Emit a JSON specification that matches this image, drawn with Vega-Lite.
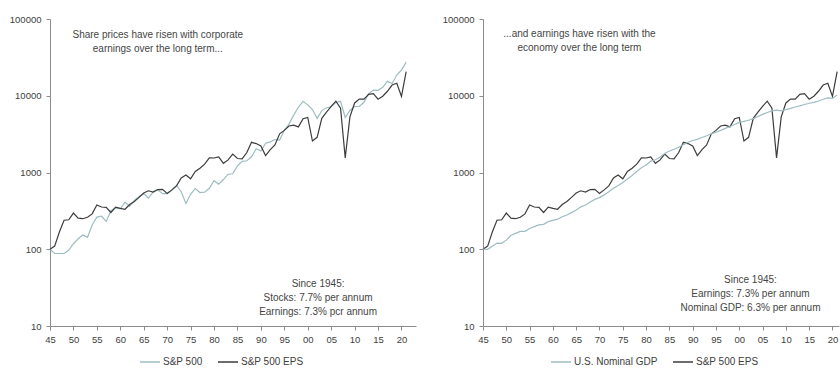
{
  "$schema": "https://vega.github.io/schema/vega-lite/v6.json",
  "background": "white",
  "padding": {"left": 9, "top": 14, "right": 0, "bottom": 0},
  "spacing": 26,
  "config": {
    "view": {"stroke": null},
    "font": "Liberation Sans",
    "axis": {
      "labelFont": "Liberation Sans",
      "labelFontSize": 9.5,
      "labelColor": "#404040",
      "domainColor": "#8c8c8c",
      "tickColor": "#8c8c8c",
      "tickSize": 4,
      "grid": false,
      "title": null,
      "labelFlush": false
    },
    "legend": {
      "orient": "none",
      "direction": "horizontal",
      "symbolType": "stroke",
      "symbolSize": 400,
      "symbolStrokeWidth": 1.5,
      "labelFont": "Liberation Sans",
      "labelFontSize": 10,
      "labelColor": "#404040",
      "labelOffset": 2,
      "columnPadding": 12,
      "padding": 0,
      "title": null
    },
    "text": {"font": "Liberation Sans", "fontSize": 10, "color": "#454545"}
  },
  "resolve": {"scale": {"color": "independent", "x": "independent", "y": "independent"}, "legend": {"color": "independent"}},
  "datasets": {
    "notes": [
      {"panel": "L", "year": 1968, "value": 61900, "label": "Share prices have risen with corporate"},
      {"panel": "L", "year": 1968, "value": 40650, "label": "earnings over the long term..."},
      {"panel": "L", "year": 2002.2, "value": 35.2, "label": "Since 1945:"},
      {"panel": "L", "year": 2002.2, "value": 23.2, "label": "Stocks: 7.7% per annum"},
      {"panel": "L", "year": 2002.2, "value": 15.0, "label": "Earnings: 7.3% pcr annum"},
      {"panel": "R", "year": 1965.7, "value": 63200, "label": "...and earnings have risen with the"},
      {"panel": "R", "year": 1965.7, "value": 41500, "label": "economy over the long term"},
      {"panel": "R", "year": 2002.4, "value": 39.7, "label": "Since 1945:"},
      {"panel": "R", "year": 2002.4, "value": 26.1, "label": "Earnings: 7.3% per annum"},
      {"panel": "R", "year": 2002.4, "value": 17.2, "label": "Nominal GDP: 6.3% per annum"}
    ],
    "series": [
      {"year":1945,"series":"S&P 500","value":100},{"year":1946,"series":"S&P 500","value":88},{"year":1947,"series":"S&P 500","value":88},{"year":1948,"series":"S&P 500","value":88},{"year":1949,"series":"S&P 500","value":97},
      {"year":1950,"series":"S&P 500","value":118},{"year":1951,"series":"S&P 500","value":137},{"year":1952,"series":"S&P 500","value":153},{"year":1953,"series":"S&P 500","value":143},{"year":1954,"series":"S&P 500","value":207},
      {"year":1955,"series":"S&P 500","value":262},{"year":1956,"series":"S&P 500","value":269},{"year":1957,"series":"S&P 500","value":230},{"year":1958,"series":"S&P 500","value":318},{"year":1959,"series":"S&P 500","value":345},
      {"year":1960,"series":"S&P 500","value":335},{"year":1961,"series":"S&P 500","value":412},{"year":1962,"series":"S&P 500","value":363},{"year":1963,"series":"S&P 500","value":432},{"year":1964,"series":"S&P 500","value":488},
      {"year":1965,"series":"S&P 500","value":532},{"year":1966,"series":"S&P 500","value":463},{"year":1967,"series":"S&P 500","value":556},{"year":1968,"series":"S&P 500","value":598},{"year":1969,"series":"S&P 500","value":530},
      {"year":1970,"series":"S&P 500","value":531},{"year":1971,"series":"S&P 500","value":588},{"year":1972,"series":"S&P 500","value":680},{"year":1973,"series":"S&P 500","value":562},{"year":1974,"series":"S&P 500","value":395},
      {"year":1975,"series":"S&P 500","value":520},{"year":1976,"series":"S&P 500","value":619},{"year":1977,"series":"S&P 500","value":548},{"year":1978,"series":"S&P 500","value":554},{"year":1979,"series":"S&P 500","value":622},
      {"year":1980,"series":"S&P 500","value":782},{"year":1981,"series":"S&P 500","value":706},{"year":1982,"series":"S&P 500","value":810},{"year":1983,"series":"S&P 500","value":950},{"year":1984,"series":"S&P 500","value":963},
      {"year":1985,"series":"S&P 500","value":1217},{"year":1986,"series":"S&P 500","value":1395},{"year":1987,"series":"S&P 500","value":1423},{"year":1988,"series":"S&P 500","value":1600},{"year":1989,"series":"S&P 500","value":2036},
      {"year":1990,"series":"S&P 500","value":1902},{"year":1991,"series":"S&P 500","value":2403},{"year":1992,"series":"S&P 500","value":2510},{"year":1993,"series":"S&P 500","value":2687},{"year":1994,"series":"S&P 500","value":2646},
      {"year":1995,"series":"S&P 500","value":3548},{"year":1996,"series":"S&P 500","value":4267},{"year":1997,"series":"S&P 500","value":5590},{"year":1998,"series":"S&P 500","value":7081},{"year":1999,"series":"S&P 500","value":8463},
      {"year":2000,"series":"S&P 500","value":7605},{"year":2001,"series":"S&P 500","value":6613},{"year":2002,"series":"S&P 500","value":5068},{"year":2003,"series":"S&P 500","value":6405},{"year":2004,"series":"S&P 500","value":6981},
      {"year":2005,"series":"S&P 500","value":7191},{"year":2006,"series":"S&P 500","value":8170},{"year":2007,"series":"S&P 500","value":8458},{"year":2008,"series":"S&P 500","value":5203},{"year":2009,"series":"S&P 500","value":6423},
      {"year":2010,"series":"S&P 500","value":7244},{"year":2011,"series":"S&P 500","value":7244},{"year":2012,"series":"S&P 500","value":8215},{"year":2013,"series":"S&P 500","value":10647},{"year":2014,"series":"S&P 500","value":11860},
      {"year":2015,"series":"S&P 500","value":11774},{"year":2016,"series":"S&P 500","value":12897},{"year":2017,"series":"S&P 500","value":15401},{"year":2018,"series":"S&P 500","value":14440},{"year":2019,"series":"S&P 500","value":18611},
      {"year":2020,"series":"S&P 500","value":21636},{"year":2021,"series":"S&P 500","value":27455},

      {"year":1945,"series":"S&P 500 EPS","value":100},{"year":1946,"series":"S&P 500 EPS","value":110},{"year":1947,"series":"S&P 500 EPS","value":168},{"year":1948,"series":"S&P 500 EPS","value":239},{"year":1949,"series":"S&P 500 EPS","value":242},
      {"year":1950,"series":"S&P 500 EPS","value":296},{"year":1951,"series":"S&P 500 EPS","value":254},{"year":1952,"series":"S&P 500 EPS","value":250},{"year":1953,"series":"S&P 500 EPS","value":261},{"year":1954,"series":"S&P 500 EPS","value":289},
      {"year":1955,"series":"S&P 500 EPS","value":377},{"year":1956,"series":"S&P 500 EPS","value":355},{"year":1957,"series":"S&P 500 EPS","value":351},{"year":1958,"series":"S&P 500 EPS","value":301},{"year":1959,"series":"S&P 500 EPS","value":353},
      {"year":1960,"series":"S&P 500 EPS","value":341},{"year":1961,"series":"S&P 500 EPS","value":332},{"year":1962,"series":"S&P 500 EPS","value":382},{"year":1963,"series":"S&P 500 EPS","value":419},{"year":1964,"series":"S&P 500 EPS","value":474},
      {"year":1965,"series":"S&P 500 EPS","value":541},{"year":1966,"series":"S&P 500 EPS","value":578},{"year":1967,"series":"S&P 500 EPS","value":555},{"year":1968,"series":"S&P 500 EPS","value":600},{"year":1969,"series":"S&P 500 EPS","value":602},
      {"year":1970,"series":"S&P 500 EPS","value":534},{"year":1971,"series":"S&P 500 EPS","value":594},{"year":1972,"series":"S&P 500 EPS","value":669},{"year":1973,"series":"S&P 500 EPS","value":850},{"year":1974,"series":"S&P 500 EPS","value":926},
      {"year":1975,"series":"S&P 500 EPS","value":829},{"year":1976,"series":"S&P 500 EPS","value":1032},{"year":1977,"series":"S&P 500 EPS","value":1134},{"year":1978,"series":"S&P 500 EPS","value":1284},{"year":1979,"series":"S&P 500 EPS","value":1548},
      {"year":1980,"series":"S&P 500 EPS","value":1544},{"year":1981,"series":"S&P 500 EPS","value":1600},{"year":1982,"series":"S&P 500 EPS","value":1317},{"year":1983,"series":"S&P 500 EPS","value":1461},{"year":1984,"series":"S&P 500 EPS","value":1733},
      {"year":1985,"series":"S&P 500 EPS","value":1522},{"year":1986,"series":"S&P 500 EPS","value":1508},{"year":1987,"series":"S&P 500 EPS","value":1823},{"year":1988,"series":"S&P 500 EPS","value":2474},{"year":1989,"series":"S&P 500 EPS","value":2382},
      {"year":1990,"series":"S&P 500 EPS","value":2223},{"year":1991,"series":"S&P 500 EPS","value":1664},{"year":1992,"series":"S&P 500 EPS","value":1989},{"year":1993,"series":"S&P 500 EPS","value":2280},{"year":1994,"series":"S&P 500 EPS","value":3188},
      {"year":1995,"series":"S&P 500 EPS","value":3538},{"year":1996,"series":"S&P 500 EPS","value":4034},{"year":1997,"series":"S&P 500 EPS","value":4138},{"year":1998,"series":"S&P 500 EPS","value":3928},{"year":1999,"series":"S&P 500 EPS","value":5018},
      {"year":2000,"series":"S&P 500 EPS","value":5208},{"year":2001,"series":"S&P 500 EPS","value":2572},{"year":2002,"series":"S&P 500 EPS","value":2874},{"year":2003,"series":"S&P 500 EPS","value":5077},{"year":2004,"series":"S&P 500 EPS","value":6099},
      {"year":2005,"series":"S&P 500 EPS","value":7284},{"year":2006,"series":"S&P 500 EPS","value":8491},{"year":2007,"series":"S&P 500 EPS","value":6893},{"year":2008,"series":"S&P 500 EPS","value":1550},{"year":2009,"series":"S&P 500 EPS","value":5309},
      {"year":2010,"series":"S&P 500 EPS","value":8057},{"year":2011,"series":"S&P 500 EPS","value":9057},{"year":2012,"series":"S&P 500 EPS","value":9011},{"year":2013,"series":"S&P 500 EPS","value":10438},{"year":2014,"series":"S&P 500 EPS","value":10657},
      {"year":2015,"series":"S&P 500 EPS","value":9014},{"year":2016,"series":"S&P 500 EPS","value":9849},{"year":2017,"series":"S&P 500 EPS","value":11446},{"year":2018,"series":"S&P 500 EPS","value":13791},{"year":2019,"series":"S&P 500 EPS","value":14528},
      {"year":2020,"series":"S&P 500 EPS","value":9805},{"year":2021,"series":"S&P 500 EPS","value":20611},

      {"year":1945,"series":"U.S. Nominal GDP","value":100},{"year":1946,"series":"U.S. Nominal GDP","value":99.8},{"year":1947,"series":"U.S. Nominal GDP","value":109.5},{"year":1948,"series":"U.S. Nominal GDP","value":120.4},{"year":1949,"series":"U.S. Nominal GDP","value":119.5},
      {"year":1950,"series":"U.S. Nominal GDP","value":131.5},{"year":1951,"series":"U.S. Nominal GDP","value":152.1},{"year":1952,"series":"U.S. Nominal GDP","value":161.1},{"year":1953,"series":"U.S. Nominal GDP","value":170.7},{"year":1954,"series":"U.S. Nominal GDP","value":171.3},
      {"year":1955,"series":"U.S. Nominal GDP","value":186.6},{"year":1956,"series":"U.S. Nominal GDP","value":197.1},{"year":1957,"series":"U.S. Nominal GDP","value":207.9},{"year":1958,"series":"U.S. Nominal GDP","value":211.1},{"year":1959,"series":"U.S. Nominal GDP","value":228.8},
      {"year":1960,"series":"U.S. Nominal GDP","value":237.9},{"year":1961,"series":"U.S. Nominal GDP","value":246.6},{"year":1962,"series":"U.S. Nominal GDP","value":264.9},{"year":1963,"series":"U.S. Nominal GDP","value":279.6},{"year":1964,"series":"U.S. Nominal GDP","value":300.2},
      {"year":1965,"series":"U.S. Nominal GDP","value":325.6},{"year":1966,"series":"U.S. Nominal GDP","value":356.8},{"year":1967,"series":"U.S. Nominal GDP","value":377.2},{"year":1968,"series":"U.S. Nominal GDP","value":412.6},{"year":1969,"series":"U.S. Nominal GDP","value":446.3},
      {"year":1970,"series":"U.S. Nominal GDP","value":470.7},{"year":1971,"series":"U.S. Nominal GDP","value":510.9},{"year":1972,"series":"U.S. Nominal GDP","value":561},{"year":1973,"series":"U.S. Nominal GDP","value":625.2},{"year":1974,"series":"U.S. Nominal GDP","value":677.7},
      {"year":1975,"series":"U.S. Nominal GDP","value":739},{"year":1976,"series":"U.S. Nominal GDP","value":821.7},{"year":1977,"series":"U.S. Nominal GDP","value":913.1},{"year":1978,"series":"U.S. Nominal GDP","value":1031},{"year":1979,"series":"U.S. Nominal GDP","value":1152},
      {"year":1980,"series":"U.S. Nominal GDP","value":1253},{"year":1981,"series":"U.S. Nominal GDP","value":1407},{"year":1982,"series":"U.S. Nominal GDP","value":1467},{"year":1983,"series":"U.S. Nominal GDP","value":1594},{"year":1984,"series":"U.S. Nominal GDP","value":1771},
      {"year":1985,"series":"U.S. Nominal GDP","value":1903},{"year":1986,"series":"U.S. Nominal GDP","value":2009},{"year":1987,"series":"U.S. Nominal GDP","value":2129},{"year":1988,"series":"U.S. Nominal GDP","value":2297},{"year":1989,"series":"U.S. Nominal GDP","value":2474},
      {"year":1990,"series":"U.S. Nominal GDP","value":2615},{"year":1991,"series":"U.S. Nominal GDP","value":2701},{"year":1992,"series":"U.S. Nominal GDP","value":2860},{"year":1993,"series":"U.S. Nominal GDP","value":3008},{"year":1994,"series":"U.S. Nominal GDP","value":3196},
      {"year":1995,"series":"U.S. Nominal GDP","value":3351},{"year":1996,"series":"U.S. Nominal GDP","value":3541},{"year":1997,"series":"U.S. Nominal GDP","value":3762},{"year":1998,"series":"U.S. Nominal GDP","value":3975},{"year":1999,"series":"U.S. Nominal GDP","value":4224},
      {"year":2000,"series":"U.S. Nominal GDP","value":4496},{"year":2001,"series":"U.S. Nominal GDP","value":4641},{"year":2002,"series":"U.S. Nominal GDP","value":4793},{"year":2003,"series":"U.S. Nominal GDP","value":5025},{"year":2004,"series":"U.S. Nominal GDP","value":5358},
      {"year":2005,"series":"U.S. Nominal GDP","value":5719},{"year":2006,"series":"U.S. Nominal GDP","value":6059},{"year":2007,"series":"U.S. Nominal GDP","value":6348},{"year":2008,"series":"U.S. Nominal GDP","value":6478},{"year":2009,"series":"U.S. Nominal GDP","value":6350},
      {"year":2010,"series":"U.S. Nominal GDP","value":6600},{"year":2011,"series":"U.S. Nominal GDP","value":6842},{"year":2012,"series":"U.S. Nominal GDP","value":7129},{"year":2013,"series":"U.S. Nominal GDP","value":7387},{"year":2014,"series":"U.S. Nominal GDP","value":7698},
      {"year":2015,"series":"U.S. Nominal GDP","value":7985},{"year":2016,"series":"U.S. Nominal GDP","value":8200},{"year":2017,"series":"U.S. Nominal GDP","value":8543},{"year":2018,"series":"U.S. Nominal GDP","value":9006},{"year":2019,"series":"U.S. Nominal GDP","value":9378},
      {"year":2020,"series":"U.S. Nominal GDP","value":9237},{"year":2021,"series":"U.S. Nominal GDP","value":10226}
    ]
  },
  "hconcat": [
    {
      "width": 366,
      "height": 307,
      "encoding": {
        "x": {"field": "year", "type": "quantitative",
              "scale": {"domain": [1945, 2023.1], "nice": false, "zero": false},
              "axis": {"values": [1945,1950,1955,1960,1965,1970,1975,1980,1985,1990,1995,2000,2005,2010,2015,2020],
                       "labelExpr": "(datum.value % 100 < 10 ? '0' : '') + (datum.value % 100)", "labelPadding": 4}},
        "y": {"field": "value", "type": "quantitative",
              "scale": {"type": "log", "domain": [10, 100000], "nice": false},
              "axis": {"values": [10, 100, 1000, 10000, 100000], "format": "d", "labelPadding": 5}}
      },
      "layer": [
        {
          "data": {"name": "series"},
          "transform": [{"filter": "datum.series === 'S&P 500' || datum.series === 'S&P 500 EPS'"}],
          "mark": {"type": "line", "strokeWidth": 1.2},
          "encoding": {
            "color": {"field": "series", "type": "nominal",
                      "scale": {"domain": ["S&P 500", "S&P 500 EPS"], "range": ["#9fbdc2", "#3d3d3d"]},
                      "legend": {"legendX": 89, "legendY": 332}}
          }
        },
        {
          "data": {"name": "notes"},
          "transform": [{"filter": "datum.panel === 'L'"}],
          "mark": {"type": "text", "align": "center", "baseline": "middle"},
          "encoding": {"text": {"field": "label"}}
        }
      ]
    },
    {
      "width": 356,
      "height": 307,
      "encoding": {
        "x": {"field": "year", "type": "quantitative",
              "scale": {"domain": [1945, 2021.4], "nice": false, "zero": false},
              "axis": {"values": [1945,1950,1955,1960,1965,1970,1975,1980,1985,1990,1995,2000,2005,2010,2015,2020],
                       "labelExpr": "(datum.value % 100 < 10 ? '0' : '') + (datum.value % 100)", "labelPadding": 4}},
        "y": {"field": "value", "type": "quantitative",
              "scale": {"type": "log", "domain": [10, 100000], "nice": false},
              "axis": {"values": [10, 100, 1000, 10000, 100000], "format": "d", "labelPadding": 5}}
      },
      "layer": [
        {
          "data": {"name": "series"},
          "transform": [{"filter": "datum.series === 'U.S. Nominal GDP' || datum.series === 'S&P 500 EPS'"}],
          "mark": {"type": "line", "strokeWidth": 1.2},
          "encoding": {
            "color": {"field": "series", "type": "nominal",
                      "scale": {"domain": ["U.S. Nominal GDP", "S&P 500 EPS"], "range": ["#9fbdc2", "#3d3d3d"]},
                      "legend": {"legendX": 67, "legendY": 332}}
          }
        },
        {
          "data": {"name": "notes"},
          "transform": [{"filter": "datum.panel === 'R'"}],
          "mark": {"type": "text", "align": "center", "baseline": "middle"},
          "encoding": {"text": {"field": "label"}}
        }
      ]
    }
  ]
}
